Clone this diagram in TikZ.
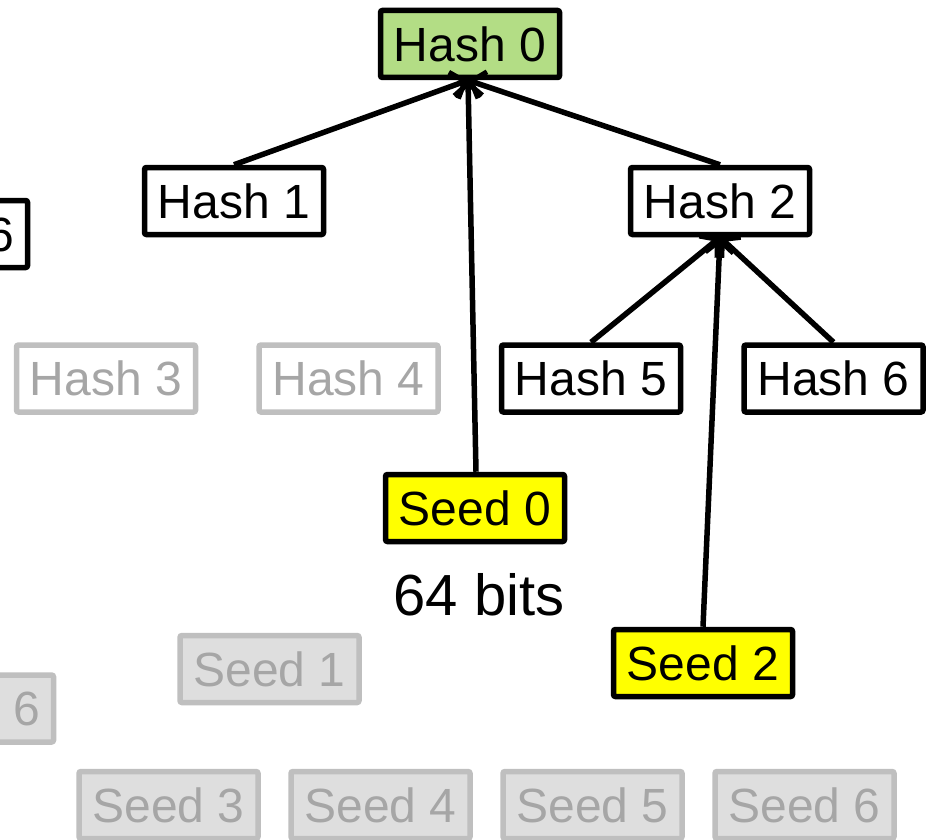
\documentclass[tikz,border=0pt]{standalone}
\usepackage{fontspec}
\setmainfont{Liberation Sans}
\usetikzlibrary{arrows.meta}
\definecolor{rootgreen}{HTML}{B3DD85}
\definecolor{seedyellow}{HTML}{FFFF00}
\definecolor{fadeline}{HTML}{BFBFBF}
\definecolor{fadefill}{HTML}{DEDEDE}
\definecolor{fadetext}{HTML}{A6A6A6}
\tikzset{
  box/.style={draw=black, line width=5.5pt, rounded corners=2pt,
    minimum width=179pt, minimum height=67pt, inner sep=0pt,
    font=\fontsize{48}{58}\selectfont, fill=white},
  rootbox/.style={box, fill=rootgreen},
  seedbox/.style={box, fill=seedyellow},
  fadehash/.style={box, draw=fadeline, text=fadetext},
  fadeseed/.style={box, draw=fadeline, fill=fadefill, text=fadetext},
  link/.style={line width=5.5pt, -{Straight Barb[length=12pt,width=28pt,line width=5pt]}}
}
\begin{document}
\begin{tikzpicture}[x=1pt, y=-1pt]
  \useasboundingbox (0,0) rectangle (934,840);
  \clip (0,0) rectangle (934,840);

  % faded parts of the tree
  \node[fadehash] (h3) at (106,378.5) {Hash 3};
  \node[fadehash] (h4) at (348.5,378.5) {Hash 4};
  \node[fadeseed] (s1) at (269.5,669) {Seed 1};
  \node[fadeseed] (s6l) at (-36,708.5) {Seed 6};
  \node[fadeseed] (s3) at (168.5,805) {Seed 3};
  \node[fadeseed] (s4) at (380.5,805) {Seed 4};
  \node[fadeseed] (s5) at (592.5,805) {Seed 5};
  \node[fadeseed] (s6) at (804.5,805) {Seed 6};

  % active tree
  \node[box] (h6l) at (-62,234) {Hash 6};
  \node[rootbox] (h0) at (470,44) {Hash 0};
  \node[box] (h1) at (234,201) {Hash 1};
  \node[box] (h2) at (720,201) {Hash 2};
  \node[box] (h5) at (591,378.5) {Hash 5};
  \node[box] (h6) at (833.5,378.5) {Hash 6};
  \node[seedbox] (s0) at (475,508) {Seed 0};
  \node[seedbox] (s2) at (703,663) {Seed 2};
  \node[font=\fontsize{58}{68}\selectfont] (bits) at (479,595) {64 bits};

  % links to parents
  \coordinate (h0in) at ([xshift=-2pt]h0.south);
  \draw[link] (h1.north) -- (h0in);
  \draw[link] (h2.north) -- (h0in);
  \draw[link] ([xshift=1pt]s0.north) -- (h0in);
  \draw[link] (h5.north) -- (h2.south);
  \draw[link] (h6.north) -- (h2.south);
  \draw[link] (s2.north) -- (h2.south);
\end{tikzpicture}
\end{document}
